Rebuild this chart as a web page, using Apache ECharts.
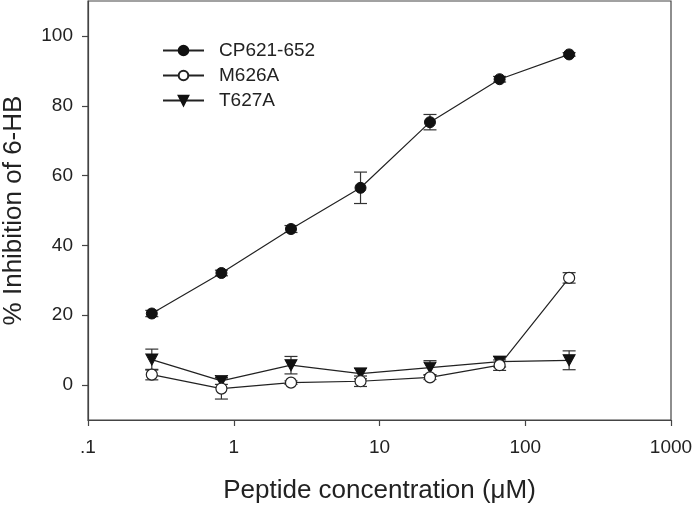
<!DOCTYPE html>
<html>
<head>
<meta charset="utf-8">
<script src="https://cdn.jsdelivr.net/npm/echarts@6/dist/echarts.min.js"></script>
<style>html,body{margin:0;padding:0;background:#fff}#c{width:693px;height:506px}</style>
</head>
<body>
<div id="c"></div>
<script>
var conc = [0.274, 0.823, 2.47, 7.41, 22.2, 66.7, 200];
var cpMean = [20.5, 32.1, 44.7, 56.5, 75.3, 87.6, 94.7];
var cpErr  = [0.9, 0.8, 1.0, 4.5, 2.2, 0.8, 0.5];
var mMean  = [3.0, -1.0, 0.7, 1.1, 2.2, 5.7, 30.7];
var mErr   = [1.5, 3.0, 0.5, 1.5, 0.6, 1.5, 1.5];
var tMean  = [7.3, 1.2, 5.7, 3.3, 5.0, 6.7, 7.1];
var tErr   = [3.0, 1.0, 2.5, 1.5, 2.0, 1.5, 2.7];
var yTicks = [0, 20, 40, 60, 80, 100];
var names  = ['CP621-652', 'M626A', 'T627A'];

function pts(m){ return conc.map(function(x,i){ return [x, m[i]]; }); }
function errs(m,e){ return conc.map(function(x,i){ return [x, m[i]-e[i], m[i]+e[i]]; }); }

function renderErr(params, api){
  var x = api.value(0), lo = api.value(1), hi = api.value(2);
  var p1 = api.coord([x, hi]), p2 = api.coord([x, lo]);
  var w = 6.5;
  var st = {stroke:'#333', lineWidth:1.2, fill:null};
  return {type:'group', children:[
    {type:'line', shape:{x1:p1[0], y1:p1[1], x2:p2[0], y2:p2[1]}, style:st},
    {type:'line', shape:{x1:p1[0]-w, y1:p1[1], x2:p1[0]+w, y2:p1[1]}, style:st},
    {type:'line', shape:{x1:p2[0]-w, y1:p2[1], x2:p2[0]+w, y2:p2[1]}, style:st}
  ]};
}

var chart = echarts.init(document.getElementById('c'), null, {renderer:'canvas'});
var font = 'Liberation Sans, Arial, sans-serif';
chart.setOption({
  animation:false,
  backgroundColor:'#fff',
  grid:{left:88, right:22, top:1, bottom:86, show:true, borderColor:'#444', borderWidth:1.2,
        containLabel:false, outerBoundsMode:'none'},
  legend:{
    data: names,
    orient:'vertical', left:157, top:36, padding:5,
    itemWidth:41, itemHeight:12, itemGap:6,
    textStyle:{fontFamily:font, fontSize:19, color:'#222', padding:[0,0,0,10], lineHeight:19}
  },
  xAxis:{
    type:'log', logBase:10, min:0.1, max:1000,
    name:'Peptide concentration (\u03bcM)', nameLocation:'middle', nameGap:58,
    nameTextStyle:{fontFamily:font, fontSize:26, color:'#222'},
    axisLine:{show:true, onZero:false, lineStyle:{color:'#444', width:1.2}},
    axisTick:{show:true, inside:false, length:6, lineStyle:{color:'#444', width:1.2}},
    minorTick:{show:false},
    splitLine:{show:false},
    axisLabel:{fontFamily:font, fontSize:19, color:'#222', margin:18,
      formatter:function(v){ return v < 0.5 ? '.1' : String(Math.round(v)); }}
  },
  yAxis:{
    type:'value', min:-10, max:110,
    name:'% Inhibition of 6-HB', nameLocation:'middle', nameGap:61, nameRotate:90,
    nameTextStyle:{fontFamily:font, fontSize:26, color:'#222'},
    axisLine:{show:true, onZero:false, lineStyle:{color:'#444', width:1.2}},
    axisTick:{show:true, inside:false, length:6, customValues:yTicks, lineStyle:{color:'#444', width:1.2}},
    splitLine:{show:false},
    axisLabel:{fontFamily:font, fontSize:19, color:'#222', margin:15, customValues:yTicks}
  },
  series:[
    {type:'custom', renderItem:renderErr, data:errs(cpMean,cpErr), z:1, silent:true},
    {type:'custom', renderItem:renderErr, data:errs(mMean,mErr), z:1, silent:true},
    {type:'custom', renderItem:renderErr, data:errs(tMean,tErr), z:1, silent:true},
    {name:names[0], type:'line', data:pts(cpMean), symbol:'circle', symbolSize:11,
      lineStyle:{color:'#222', width:1.2}, itemStyle:{color:'#111', borderColor:'#111', borderWidth:1}, z:3},
    {name:names[1], type:'line', data:pts(mMean), symbol:'circle', symbolSize:11,
      lineStyle:{color:'#222', width:1.2}, itemStyle:{color:'#fff', borderColor:'#222', borderWidth:1.2}, z:4},
    {name:names[2], type:'line', data:pts(tMean), symbol:'triangle', symbolRotate:180, symbolSize:[12,11],
      lineStyle:{color:'#222', width:1.2}, itemStyle:{color:'#111', borderColor:'#111', borderWidth:1}, z:3}
  ]
});
</script>
</body>
</html>
